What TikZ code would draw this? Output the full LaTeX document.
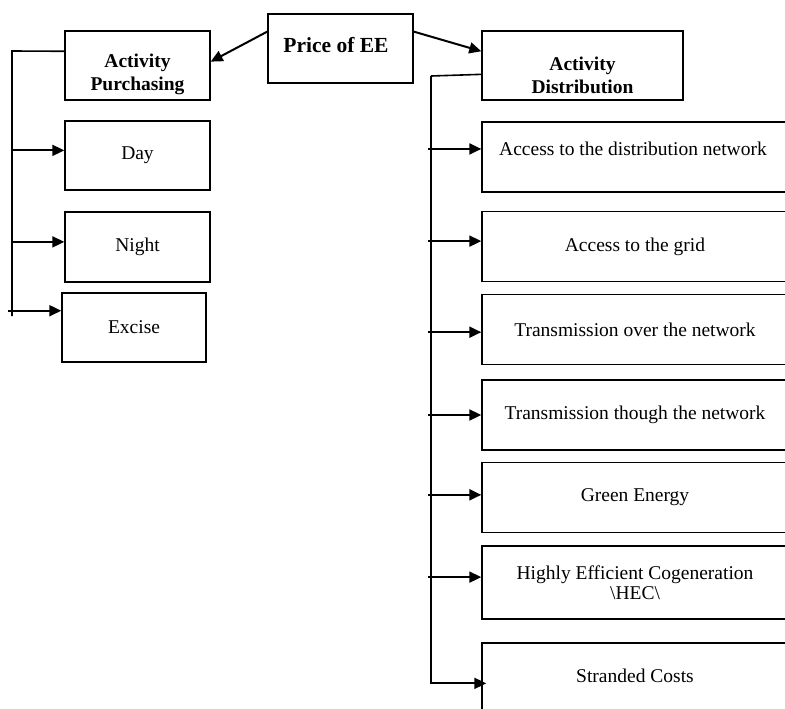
\documentclass[tikz,border=0pt]{standalone}
\usepackage{fontspec}
\setmainfont{Liberation Serif}
\usetikzlibrary{arrows.meta, math, calc}

\tikzset{
  box/.style={draw, line width=1.4, rectangle, inner sep=0, align=center, minimum width=145, minimum height=69},
  wide/.style={box, minimum width=306, minimum height=70},
  lbl/.style={inner sep=0, align=center},
  arr/.style={-{Triangle[length=12pt,width=11pt]}, line width=2},
  bus/.style={line width=1.6},
}

\begin{document}
\begin{tikzpicture}[x=1pt, y=-1pt, font=\fontsize{19.5}{20}\selectfont]
\tikzmath{
\rx=635;
\rw=306;
}
\useasboundingbox (0,0) rectangle (785,709);

% top
\node[box, font=\fontsize{21.5}{23}\selectfont\bfseries] (price) at (340.5,48.5) {};
\node[lbl, font=\fontsize{21.5}{23}\selectfont\bfseries] (pricetxt) at (336,45) {Price of EE};

% purchasing side
\node[box] (purch) at (137.5,65.5) {};
\node[lbl, font=\fontsize{19.5}{23}\selectfont\bfseries] (purchtxt) at (137.5,74) {Activity\\Purchasing};
\node[box] (day) at (137.5,155.5) {Day};
\node[box, minimum height=70] (night) at (137.5,247) {Night};
\node[box, minimum width=144] (excise) at (134,327.5) {Excise};

% distribution side
\node[box, minimum width=201] (dist) at (582.5,65.5) {};
\node[lbl, font=\fontsize{19.5}{23}\selectfont\bfseries] (disttxt) at (582.5,75) {Activity\\Distribution};
\node[wide] (dnet) at (\rx,157) {};
\node[lbl] (dnettxt) at (633,149) {Access to the distribution network};
\node[wide] (grid) at (\rx,246.5) {Access to the grid};
\node[wide] (over) at (\rx,329.5) {Transmission over the network};
\node[wide] (though) at (\rx,415) {Transmission though the network};
\node[wide] (green) at (\rx,497.5) {Green Energy};
\node[wide, minimum height=73] (hec) at (\rx,582.5) {Highly Efficient Cogeneration\\\textbackslash HEC\textbackslash};
\node[wide] (strand) at (\rx,678) {\\[-10pt]Stranded Costs};

\draw[arr] (price.167) -- (purch.3);
\draw[arr] (price.13) -- (dist.172);

% left bus
\coordinate (ltop) at (12,51);
\coordinate (lbot) at (12,316);
\draw[bus] (purch.169) -- (ltop) -- (lbot);
\draw[arr] (ltop |- day.176) -- (day.176);
\draw[arr] (ltop |- night.176) -- (night.176);
\draw[arr] ([xshift=-4]ltop |- excise.167) -- (excise.167);

% right bus
\coordinate (rtop) at (431,76);
\draw[bus] (dist.185) -- (rtop);
\draw[arr] (rtop) -- (rtop |- strand.182) -- ([xshift=5]strand.182);
\foreach \n/\a in {dnet/177, grid/178.3, over/181.3, though/180, green/179.4, hec/178.3}
  \draw[arr] ([xshift=-3]rtop |- \n.\a) -- (\n.\a);
\end{tikzpicture}
\end{document}
